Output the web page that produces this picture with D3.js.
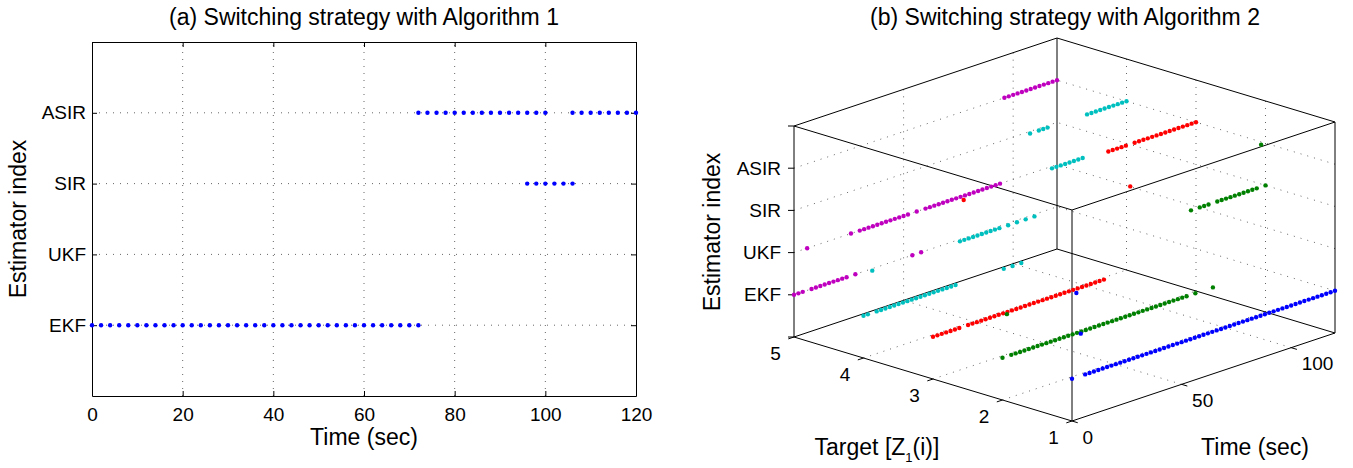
<!DOCTYPE html>
<html>
<head>
<meta charset="utf-8">
<script src="https://cdn.jsdelivr.net/npm/d3@7"></script>
<style>
  body { margin: 0; background: #fff; }
  text { font-family: "Liberation Sans", Arial, sans-serif; fill: #000; }
</style>
</head>
<body>
<div id="chart"></div>
<script>
// estimator names on the index axis (index 1..4)
var estimators = ["EKF", "UKF", "SIR", "ASIR"];

// (a) Algorithm 1: times (sec) at which each estimator was active
var a1EkfTimes  = [0,2,4,6,8,10,12,14,16,18,20,22,24,26,28,30,32,34,36,38,40,42,44,46,48,50,52,54,56,58,60,62,64,66,68,70,72];
var a1SirTimes  = [96,98,100,102,104,106];
var a1AsirTimes = [72,74,76,78,80,82,84,86,88,90,92,94,96,98,100,106,108,110,112,114,116,118,120];
var a1TimeTicks = [0,20,40,60,80,100,120];

// (b) Algorithm 2: sample times and chosen estimator index per target
var a2Times = [0,2,4,6,8,10,12,14,16,18,20,22,24,26,28,30,32,34,36,38,40,42,44,46,48,50,52,54,56,58,
               60,62,64,66,68,70,72,74,76,78,80,82,84,86,88,90,92,94,96,98,100,102,104,106,108,110,112,114,116,118,120];
var target1 = [1,3,2,1,1,1,1,1,1,1, 1,1,1,1,1,1,1,1,1,1, 1,1,1,1,1,1,1,1,1,1, 1,1,1,1,1,1,1,1,1,1, 1,1,1,1,1,1,1,1,1,1, 1,1,1,1,1,1,1,1,1,1, 1];
var target2 = [1,2,1,1,1,1,1,1,1,1, 1,1,1,1,1,1,1,1,1,1, 1,1,1,1,1,1,1,1,1,1, 1,1,1,1,1,1,1,1,1,1, 1,1,1,3,1,3,3,3,1,3, 3,3,3,3,3,3,3,3,3,4, 3];
var target3 = [1,1,1,1,1,1,1,4,1,1, 1,1,1,1,1,1,1,1,1,1, 1,1,1,1,1,1,1,1,1,1, 1,1,1,1,1,1,1,1,1,1, 4,4,4,4,4,3,4,4,4,4, 4,4,4,4,4,4,4,4,4,4, 4];
var target4 = [1,1,2,1,1,1,1,1,1,1, 1,1,1,1,1,1,1,1,1,1, 1,1,2,2,2,2,2,2,2,2, 2,2,1,2,1,2,1,2,4,2, 4,4,4,3,3,3,3,3,3,3, 3,4,4,4,4,4,4,4,4,4, 4];
var target5 = [1,1,1,2,1,1,1,1,1,1, 1,1,1,2,1,2,2,2,2,2, 2,2,2,2,2,2,2,1,2,1, 2,2,2,2,2,2,2,2,2,2, 2,2,2,2,2,2,2,2,4,4, 4,4,4,4,4,4,4,4,4,4, 4];
var targetSeries = [target1, target2, target3, target4, target5];
var targetColors = ["#0000ff", "#008000", "#ff0000", "#00bfbf", "#bf00bf"];
var a2TimeTicks = [0, 50, 100];
var a2TargetTicks = [1, 2, 3, 4, 5];

var W = 1353, H = 468;
var svg = d3.select("#chart").append("svg")
    .attr("width", W).attr("height", H)
    .style("display", "block");
svg.append("rect").attr("width", W).attr("height", H).attr("fill", "#fff");

var gridColor = "#666", gridDash = "1,6";

// ---------------- panel (a) ----------------
var x = d3.scaleLinear().domain([0, 120]).range([92, 636]);
var y = d3.scaleLinear().domain([0, 5]).range([396, 42]);
var pa = svg.append("g");

// grid
pa.selectAll(".vgrid").data(a1TimeTicks.slice(1, -1)).enter().append("line")
    .attr("x1", d => x(d)).attr("x2", d => x(d))
    .attr("y1", y(0)).attr("y2", y(5))
    .attr("stroke", gridColor).attr("stroke-dasharray", gridDash);
pa.selectAll(".hgrid").data([1, 2, 3, 4]).enter().append("line")
    .attr("x1", x(0)).attr("x2", x(120))
    .attr("y1", d => y(d)).attr("y2", d => y(d))
    .attr("stroke", gridColor).attr("stroke-dasharray", gridDash);

// axes (ticks inward, like the original)
function styleAxis(g) {
  g.select(".domain").attr("stroke", "#000");
  g.selectAll(".tick line").attr("stroke", "#000");
  g.selectAll(".tick text").attr("font-size", 19).attr("font-family", "Liberation Sans, Arial, sans-serif");
}
pa.append("g").attr("transform", "translate(0," + y(0) + ")")
    .call(d3.axisBottom(x).tickValues(a1TimeTicks).tickSizeInner(-5).tickSizeOuter(0).tickPadding(12))
    .call(styleAxis);
pa.append("g").attr("transform", "translate(0," + y(5) + ")")
    .call(d3.axisTop(x).tickValues(a1TimeTicks).tickSizeInner(-5).tickSizeOuter(0).tickFormat(""))
    .call(styleAxis);
pa.append("g").attr("transform", "translate(" + x(0) + ",0)")
    .call(d3.axisLeft(y).tickValues([1, 2, 3, 4]).tickFormat(d => estimators[d - 1])
          .tickSizeInner(-5).tickSizeOuter(0).tickPadding(6))
    .call(styleAxis);
pa.append("g").attr("transform", "translate(" + x(120) + ",0)")
    .call(d3.axisRight(y).tickValues([1, 2, 3, 4]).tickSizeInner(-5).tickSizeOuter(0).tickFormat(""))
    .call(styleAxis);

// points
var a1Points = []
  .concat(a1EkfTimes.map(t => [t, 1]))
  .concat(a1SirTimes.map(t => [t, 3]))
  .concat(a1AsirTimes.map(t => [t, 4]));
pa.selectAll(".pt").data(a1Points).enter().append("circle")
    .attr("cx", d => x(d[0])).attr("cy", d => y(d[1]))
    .attr("r", 2.2).attr("fill", "#0000ff");

pa.append("text").attr("x", 364).attr("y", 25).attr("text-anchor", "middle")
    .attr("font-size", 23).text("(a) Switching strategy with Algorithm 1");
pa.append("text").attr("x", 364).attr("y", 445).attr("text-anchor", "middle")
    .attr("font-size", 23).text("Time (sec)");
pa.append("text").attr("transform", "translate(26,219) rotate(-90)").attr("text-anchor", "middle")
    .attr("font-size", 23).text("Estimator index");

// ---------------- panel (b) : 3-D view ----------------
var origin = [1072, 421];                                   // time 0, target 1, index 0
var tx = d3.scaleLinear().domain([0, 120]).range([0, 263]);
var ty = d3.scaleLinear().domain([0, 120]).range([0, -88]);
var gx = d3.scaleLinear().domain([1, 5]).range([0, -278]);
var gy = d3.scaleLinear().domain([1, 5]).range([0, -84]);
var zy = d3.scaleLinear().domain([0, 5]).range([0, -211]);
function proj(t, g, z) {
  return [origin[0] + tx(t) + gx(g), origin[1] + ty(t) + gy(g) + zy(z)];
}
var line = d3.line();
var pb = svg.append("g");

// grid on floor and the two back walls
var gridSegs = [];
[50, 100].forEach(t => {
  gridSegs.push([proj(t, 1, 0), proj(t, 5, 0)]);
  gridSegs.push([proj(t, 5, 0), proj(t, 5, 5)]);
});
[2, 3, 4].forEach(g => {
  gridSegs.push([proj(0, g, 0), proj(120, g, 0)]);
  gridSegs.push([proj(120, g, 0), proj(120, g, 5)]);
});
[1, 2, 3, 4].forEach(z => {
  gridSegs.push([proj(0, 5, z), proj(120, 5, z)]);
  gridSegs.push([proj(120, 1, z), proj(120, 5, z)]);
});
pb.selectAll(".grid3").data(gridSegs).enter().append("path")
    .attr("d", line).attr("fill", "none")
    .attr("stroke", gridColor).attr("stroke-dasharray", gridDash);

// box edges
var boxSegs = [];
[0, 5].forEach(z => {
  boxSegs.push([proj(0, 1, z), proj(120, 1, z)]);
  boxSegs.push([proj(0, 5, z), proj(120, 5, z)]);
  boxSegs.push([proj(0, 1, z), proj(0, 5, z)]);
  boxSegs.push([proj(120, 1, z), proj(120, 5, z)]);
});
[[0, 1], [0, 5], [120, 1], [120, 5]].forEach(c => boxSegs.push([proj(c[0], c[1], 0), proj(c[0], c[1], 5)]));
pb.selectAll(".box").data(boxSegs).enter().append("path")
    .attr("d", line).attr("fill", "none").attr("stroke", "#000").attr("stroke-width", 1);

// ticks
function unit(v, len) { var n = Math.hypot(v[0], v[1]); return [v[0] / n * len, v[1] / n * len]; }
var tOut = unit([-tx(120), -ty(120)], 6);      // outward along -time
var gOut = unit([-gx(5), -gy(5)], 6);          // outward along -target
var tickSegs = [];
a2TargetTicks.forEach(g => { var p = proj(0, g, 0); tickSegs.push([p, [p[0] + tOut[0], p[1] + tOut[1]]]); });
a2TimeTicks.forEach(t => { var p = proj(t, 1, 0); tickSegs.push([p, [p[0] + gOut[0], p[1] + gOut[1]]]); });
[0, 1, 2, 3, 4, 5].forEach(z => { var p = proj(0, 5, z); tickSegs.push([p, [p[0] - 6, p[1]]]); });
pb.selectAll(".tk").data(tickSegs).enter().append("path")
    .attr("d", line).attr("stroke", "#000").attr("fill", "none");

// tick labels
pb.selectAll(".glab").data(a2TargetTicks).enter().append("text")
    .attr("x", d => proj(0, d, 0)[0] - 18.5).attr("y", d => proj(0, d, 0)[1] + 23)
    .attr("text-anchor", "middle").attr("font-size", 19).text(d => d);
pb.selectAll(".tlab").data(a2TimeTicks).enter().append("text")
    .attr("x", d => proj(d, 1, 0)[0] + 10.5).attr("y", d => proj(d, 1, 0)[1] + 22.5)
    .attr("text-anchor", "start").attr("font-size", 19).text(d => d);
pb.selectAll(".zlab").data([1, 2, 3, 4]).enter().append("text")
    .attr("x", proj(0, 5, 0)[0] - 13).attr("y", d => proj(0, 5, d)[1]).attr("dy", "0.35em")
    .attr("text-anchor", "end").attr("font-size", 19).text(d => estimators[d - 1]);

// points, far ones first
var a2Points = [];
targetSeries.forEach((s, k) => s.forEach((z, i) => a2Points.push({ t: a2Times[i], g: k + 1, z: z, c: targetColors[k] })));
a2Points.sort((a, b) => proj(a.t, a.g, 0)[1] - proj(b.t, b.g, 0)[1]);
pb.selectAll(".pt3").data(a2Points).enter().append("circle")
    .attr("cx", d => proj(d.t, d.g, d.z)[0]).attr("cy", d => proj(d.t, d.g, d.z)[1])
    .attr("r", 2.2).attr("fill", d => d.c);

// titles and axis labels
pb.append("text").attr("x", 1065).attr("y", 25).attr("text-anchor", "middle")
    .attr("font-size", 23).text("(b) Switching strategy with Algorithm 2");
pb.append("text").attr("transform", "translate(720,232) rotate(-90)").attr("text-anchor", "middle")
    .attr("font-size", 23).text("Estimator index");
var tl = pb.append("text").attr("x", 877).attr("y", 455).attr("text-anchor", "middle")
    .attr("font-size", 23);
tl.append("tspan").text("Target [Z");
tl.append("tspan").attr("font-size", 13).attr("dy", 7).text("1");
tl.append("tspan").attr("dy", -7).text("(i)]");
pb.append("text").attr("x", 1255).attr("y", 455).attr("text-anchor", "middle")
    .attr("font-size", 23).text("Time (sec)");
</script>
</body>
</html>
